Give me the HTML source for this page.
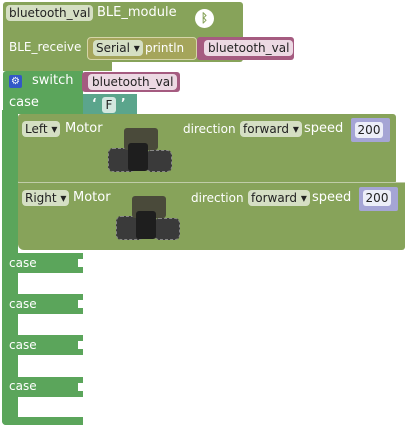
<!DOCTYPE html><html><head><style>
body{margin:0;width:409px;height:431px;background:#fff;position:relative;overflow:hidden;font-family:"DejaVu Sans","Liberation Sans",sans-serif;font-size:12px;color:#fff}
div{position:absolute;box-sizing:border-box}
.o{background:#87a35a}
.g{background:#5ba55b}
.t{white-space:nowrap;line-height:14px}
.f{background:#d5dfc4;color:#222;border-radius:4px;padding:0 3px;height:16px;line-height:16px;white-space:nowrap}
.p{background:#a55b80;border-radius:3px}
.pi{background:#ecd9e3;color:#222;border-radius:4px;padding:0 4px;height:16px;line-height:16px;white-space:nowrap}
.n{background:#a5a5d5;border-radius:2px}
.ni{background:#eceef8;color:#222;border-radius:3px;height:16px;line-height:16px;text-align:center}
.w{background:#fff}
.tr{background:#3a3a3a;border-radius:5px;border:1px dashed #888}
</style></head><body>
<!-- BLE block -->
<div class="o" style="left:3px;top:2px;width:240px;height:60px;border-radius:3px"></div>
<div class="o" style="left:3px;top:55px;width:109px;height:16px"></div>
<div class="f" style="left:6px;top:5px">bluetooth_val</div>
<div class="t" style="left:97px;top:6px;font-size:13px">BLE_module</div>
<div style="left:195px;top:9px;width:19px;height:19px;border-radius:50%;background:#fff;color:#87a35a;text-align:center;font-size:12px;line-height:19px;font-weight:bold">ᛒ</div>
<div class="t" style="left:9px;top:40px">BLE_receive</div>
<div style="left:87px;top:37px;width:110px;height:23px;background:#a5a55b;border-radius:4px;border:1px solid #d5d5a8"></div>
<div class="f" style="left:93px;top:40px">Serial ▾</div>
<div class="t" style="left:145px;top:41px;color:#fff">println</div>
<div class="p" style="left:197px;top:37px;width:97px;height:23px"></div>
<div class="pi" style="left:204px;top:40px">bluetooth_val</div>
<!-- switch -->
<div class="g" style="left:3px;top:71px;width:80px;height:24px;border-radius:3px 0 0 0"></div>
<div class="g" style="left:3px;top:95px;width:80px;height:19px"></div>
<div class="g" style="left:2px;top:110px;width:16px;height:315px;border-radius:0 0 0 4px"></div>
<div style="left:9px;top:75px;width:13px;height:13px;background:#3358c7;border-radius:2px;color:#fff;font-size:10px;line-height:13px;text-align:center">⚙</div>
<div class="t" style="left:32px;top:74px;font-size:13px">switch</div>
<div class="p" style="left:82px;top:72px;width:98px;height:20px"></div>
<div class="pi" style="left:88px;top:74px">bluetooth_val</div>
<div class="t" style="left:9px;top:96px;font-size:13px">case</div>
<div style="left:83px;top:94px;width:54px;height:20px;background:#5ba58c"></div>
<div class="t" style="left:92px;top:96px;font-weight:bold">‘</div>
<div class="ni" style="left:102px;top:97px;width:14px;background:#d3e8e0">F</div>
<div class="t" style="left:121px;top:96px;font-weight:bold">’</div>
<!-- Left motor -->
<div class="o" style="left:18px;top:114px;width:378px;height:70px;border-radius:3px"></div>
<div class="f" style="left:22px;top:121px">Left ▾</div>
<div class="t" style="left:65px;top:122px;font-size:13px">Motor</div>
<div class="t" style="left:183px;top:122px;font-size:12px">direction</div>
<div class="f" style="left:240px;top:121px">forward ▾</div>
<div class="t" style="left:304px;top:122px;font-size:13px">speed</div>
<div class="n" style="left:351px;top:118px;width:39px;height:24px"></div>
<div class="ni" style="left:355px;top:122px;width:28px">200</div>
<div class="tr" style="left:108px;top:148px;width:28px;height:24px"></div>
<div class="tr" style="left:146px;top:150px;width:26px;height:22px"></div>
<div style="left:124px;top:128px;width:34px;height:22px;background:#4a4a3a;border-radius:3px"></div>
<div style="left:128px;top:143px;width:20px;height:28px;background:#1e1e1e;border-radius:3px"></div>
<!-- Right motor -->
<div class="o" style="left:18px;top:183px;width:387px;height:67px;border-radius:0 0 3px 6px"></div>
<div style="left:18px;top:182px;width:387px;height:1px;background:#c0cca8"></div>
<div class="f" style="left:22px;top:190px">Right ▾</div>
<div class="t" style="left:73px;top:191px;font-size:13px">Motor</div>
<div class="t" style="left:191px;top:191px;font-size:12px">direction</div>
<div class="f" style="left:248px;top:190px">forward ▾</div>
<div class="t" style="left:312px;top:191px;font-size:13px">speed</div>
<div class="n" style="left:359px;top:187px;width:39px;height:24px"></div>
<div class="ni" style="left:363px;top:190px;width:28px">200</div>
<div class="tr" style="left:116px;top:216px;width:28px;height:24px"></div>
<div class="tr" style="left:154px;top:218px;width:26px;height:22px"></div>
<div style="left:132px;top:196px;width:34px;height:22px;background:#4a4a3a;border-radius:3px"></div>
<div style="left:136px;top:211px;width:20px;height:28px;background:#1e1e1e;border-radius:3px"></div>
<!-- cases -->
<div class="g" style="left:2px;top:253px;width:81px;height:20px"></div>
<div class="t" style="left:9px;top:256px">case</div>
<div class="g" style="left:2px;top:294px;width:81px;height:20px"></div>
<div class="t" style="left:9px;top:297px">case</div>
<div class="g" style="left:2px;top:335px;width:81px;height:20px"></div>
<div class="t" style="left:9px;top:338px">case</div>
<div class="g" style="left:2px;top:377px;width:81px;height:20px"></div>
<div class="t" style="left:9px;top:379px">case</div>
<div class="g" style="left:2px;top:417px;width:81px;height:8px;border-radius:0 0 0 4px"></div>
<div class="w" style="left:78px;top:259px;width:5px;height:8px"></div>
<div class="w" style="left:78px;top:300px;width:5px;height:8px"></div>
<div class="w" style="left:78px;top:341px;width:5px;height:8px"></div>
<div class="w" style="left:78px;top:383px;width:5px;height:8px"></div>
</body></html>
